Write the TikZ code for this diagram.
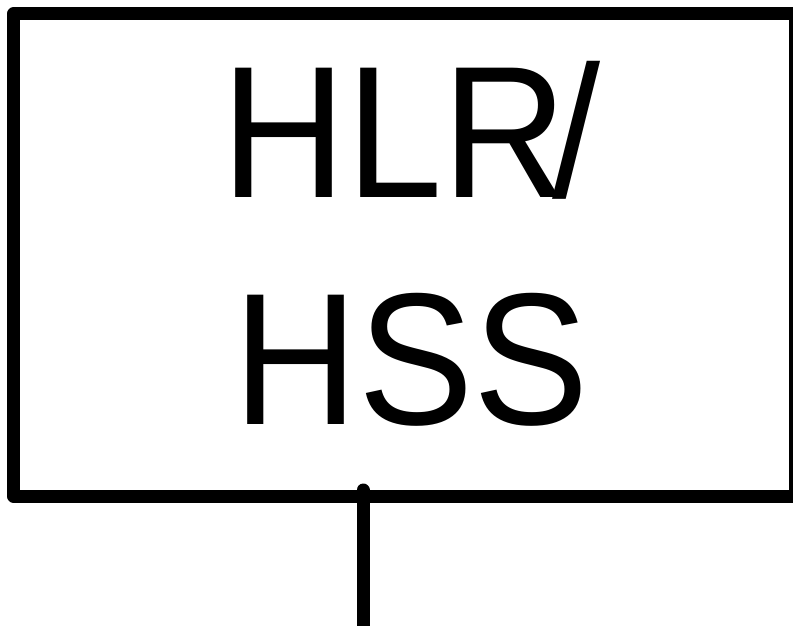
\documentclass[tikz,border=0pt]{standalone}
\usepackage{fontspec}
\setmainfont{Liberation Sans}
\newfontfamily\lblfont[FakeStretch=0.92]{Liberation Sans}
\begin{document}
\begin{tikzpicture}[x=1pt,y=-1pt,
  boxstyle/.style={draw=black,line width=13pt,line join=round,fill=none,
    minimum width=782pt,minimum height=482pt,inner sep=0pt},
  labelstyle/.style={align=center,inner sep=0pt,
    font=\lblfont\fontsize{188}{227}\selectfont},
  wire/.style={line width=13pt,line cap=round}]
\useasboundingbox (0,0) rectangle (793,626);
\clip (0,0) rectangle (793,626);
\node[boxstyle] (box) at (404.5,255) {};
\node[labelstyle,anchor=base] (lbl) at (411,424) {HLR\kern-0.08em/\\HSS};
\coordinate (tap) at (363,490);
\coordinate (end) at (363,650);
\draw[wire] (tap) -- (end);
\end{tikzpicture}
\end{document}
